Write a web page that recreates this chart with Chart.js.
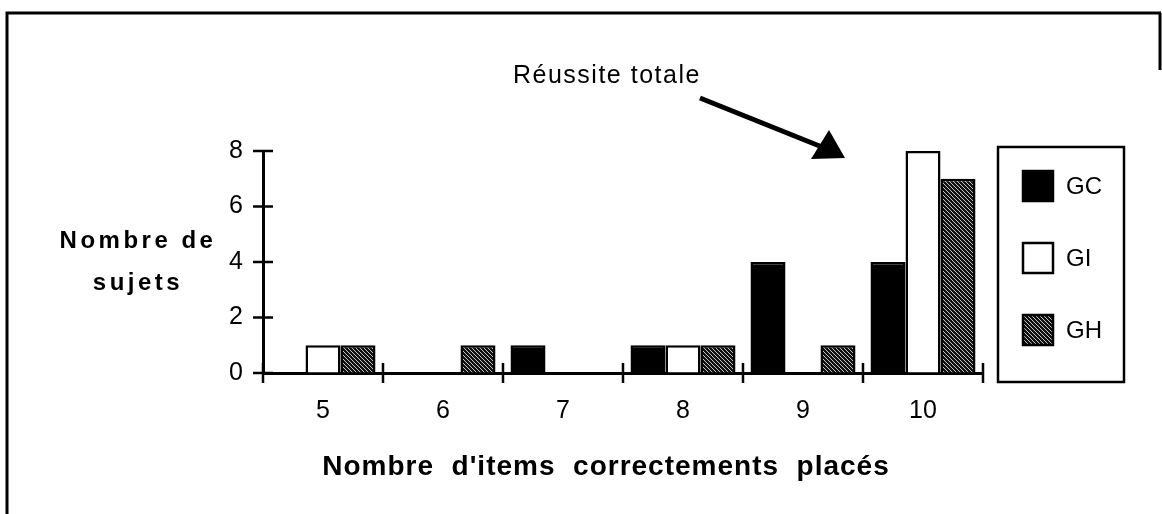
<!DOCTYPE html>
<html>
<head>
<meta charset="utf-8">
<script src="https://cdn.jsdelivr.net/npm/chart.js@4.4.0/dist/chart.umd.min.js"></script>
<style>
body { margin: 0; background: #fff; }
</style>
</head>
<body>
<canvas id="myChart" width="1162" height="514"></canvas>
<script>
// data
var categories = ['5', '6', '7', '8', '9', '10'];
var seriesNames = ['GC', 'GI', 'GH'];
var gcValues = [0, 0, 1, 1, 4, 4];
var giValues = [1, 0, 0, 1, 0, 8];
var ghValues = [1, 1, 0, 1, 1, 7];
var yTicks = [0, 2, 4, 6, 8];
var xTitle = "Nombre  d'items  correctements  placés";
var yTitle = ['Nombre de', 'sujets'];
var note = 'Réussite totale';

var FONT = "'Liberation Sans', Arial, sans-serif";
Chart.defaults.font.family = FONT;
Chart.defaults.color = '#000';

var ctx = document.getElementById('myChart').getContext('2d');

// dotted / hatched fill for GH
function hatch() {
    var c = document.createElement('canvas');
    c.width = 4; c.height = 4;
    var g = c.getContext('2d');
    g.fillStyle = '#111';
    g.fillRect(0, 0, 4, 4);
    g.fillStyle = '#c4c4c4';
    for (var i = 0; i < 4; i++) g.fillRect(i, i, 1, 1);
    return ctx.createPattern(c, 'repeat');
}

function bw(c) { return c.raw ? 2.5 : 0; }

var decor = {
    id: 'decor',
    afterDraw: function (chart) {
        var g = chart.ctx;
        var xs = chart.scales.x, ys = chart.scales.y;
        g.save();
        g.strokeStyle = '#000';
        g.fillStyle = '#000';

        // frame
        g.lineWidth = 3;
        g.beginPath();
        g.moveTo(7, 514); g.lineTo(7, 13); g.lineTo(1161, 13);
        g.moveTo(1160, 13); g.lineTo(1160, 70);
        g.stroke();

        // crossing ticks
        g.lineWidth = 2.5;
        g.beginPath();
        ys.ticks.forEach(function (t) {
            var y = ys.getPixelForValue(t.value);
            g.moveTo(xs.left - 10, y); g.lineTo(xs.left + 10, y);
        });
        var half = (xs.getPixelForValue(1) - xs.getPixelForValue(0)) / 2;
        for (var i = 0; i <= categories.length; i++) {
            var x = xs.getPixelForValue(0) - half + i * half * 2;
            g.moveTo(x, ys.bottom - 10); g.lineTo(x, ys.bottom + 10);
        }
        g.stroke();

        // axis titles
        g.textBaseline = 'middle';
        g.textAlign = 'center';
        g.font = 'bold 24px ' + FONT;
        g.letterSpacing = '3.5px';
        g.fillText(yTitle[0], 138, 241);
        g.fillText(yTitle[1], 138, 283);
        g.font = 'bold 28px ' + FONT;
        g.letterSpacing = '1px';
        g.fillText(xTitle, 606, 467);

        // note + arrow
        g.textAlign = 'left';
        g.font = '25px ' + FONT;
        g.letterSpacing = '1.5px';
        g.fillText(note, 513, 76);
        g.letterSpacing = '0px';
        g.lineWidth = 5;
        g.beginPath();
        g.moveTo(700, 98); g.lineTo(822, 147);
        g.stroke();
        g.beginPath();
        g.moveTo(845, 158); g.lineTo(811, 159); g.lineTo(829, 130);
        g.closePath();
        g.fill();

        // legend box
        g.lineWidth = 2.5;
        g.strokeRect(998, 147, 126, 235);
        g.font = '24px ' + FONT;
        chart.data.datasets.forEach(function (ds, k) {
            var cy = 186 + k * 72;
            g.fillStyle = ds.backgroundColor;
            g.fillRect(1023, cy - 15, 30, 30);
            g.strokeStyle = '#000';
            g.lineWidth = 2.5;
            g.strokeRect(1023, cy - 15, 30, 30);
            g.fillStyle = '#000';
            g.fillText(ds.label, 1066, cy + 1);
        });
        g.restore();
    }
};

var chart = new Chart(ctx, {
    type: 'bar',
    data: {
        labels: categories,
        datasets: [
            { label: seriesNames[0], data: gcValues, backgroundColor: '#000', borderColor: '#000', borderWidth: bw },
            { label: seriesNames[1], data: giValues, backgroundColor: '#fff', borderColor: '#000', borderWidth: bw },
            { label: seriesNames[2], data: ghValues, backgroundColor: hatch(), borderColor: '#000', borderWidth: bw }
        ]
    },
    options: {
        responsive: false,
        animation: false,
        devicePixelRatio: 1,
        layout: { padding: { left: 0, top: 151, right: 179, bottom: 0 } },
        plugins: { legend: { display: false }, tooltip: { enabled: false } },
        datasets: { bar: { categoryPercentage: 0.875, barPercentage: 1 } },
        scales: {
            x: {
                grid: { drawOnChartArea: false, drawTicks: false },
                border: { color: '#000', width: 3 },
                ticks: { padding: 23, font: { size: 25 } },
                afterFit: function (s) { s.height = 141; }
            },
            y: {
                min: 0, max: 8,
                afterBuildTicks: function (s) {
                    s.ticks = yTicks.map(function (v) { return { value: v }; });
                },
                grid: { drawOnChartArea: false, drawTicks: false },
                border: { color: '#000', width: 3 },
                ticks: { padding: 20, font: { size: 25 } },
                afterFit: function (s) { s.width = 263; }
            }
        }
    },
    plugins: [decor]
});
</script>
</body>
</html>
